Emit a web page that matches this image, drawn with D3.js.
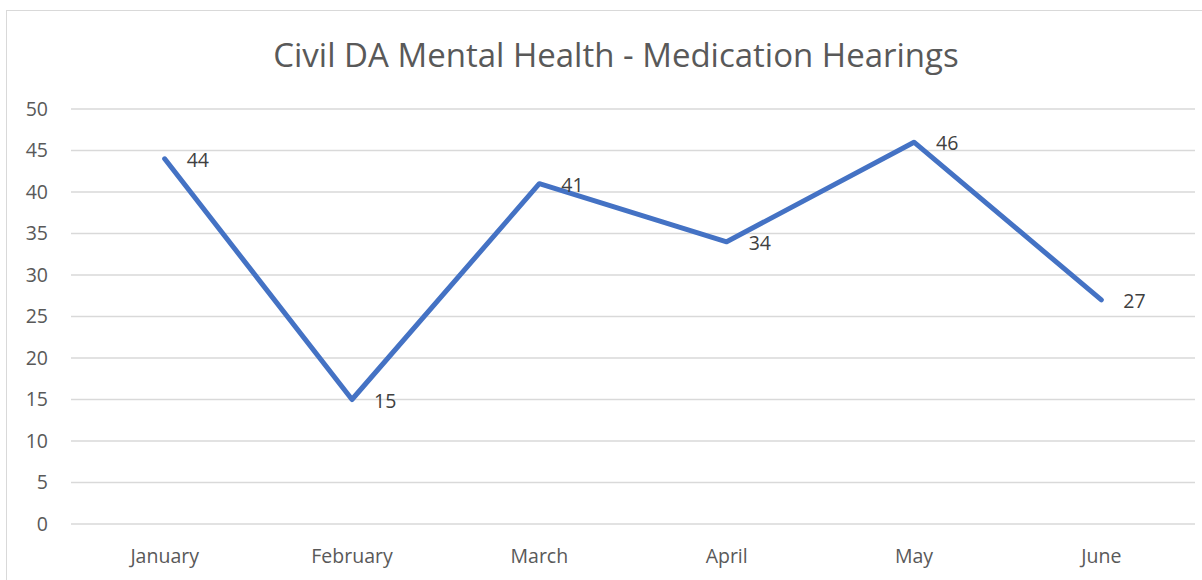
<!DOCTYPE html>
<html>
<head>
<meta charset="utf-8">
<script src="https://cdn.jsdelivr.net/npm/d3@7"></script>
<style>
  body { margin: 0; background: #fff; }
  svg { display: block; font-family: "Open Sans", "Noto Sans", sans-serif; }
</style>
</head>
<body>
<div id="chart"></div>
<script>
// chart data
var months = ["January", "February", "March", "April", "May", "June"];
var hearings = [44, 15, 41, 34, 46, 27];
var yTicks = [0, 5, 10, 15, 20, 25, 30, 35, 40, 45, 50];
var title = "Civil DA Mental Health - Medication Hearings";

var width = 1202, height = 580;
var plotLeft = 71, plotRight = 1195, plotTop = 109, plotBottom = 524;
var fontSize = 19.5;

var svg = d3.select("#chart").append("svg")
    .attr("width", width)
    .attr("height", height);

// outer chart border
svg.append("rect")
    .attr("x", 6.5).attr("y", 10.5)
    .attr("width", 1240).attr("height", 620)
    .attr("fill", "#fff")
    .attr("stroke", "#d9d9d9")
    .attr("stroke-width", 1);

var x = d3.scaleBand().domain(months).range([plotLeft, plotRight]);
var y = d3.scaleLinear().domain([0, 50]).range([plotBottom, plotTop]);

// gridlines
svg.append("g")
  .selectAll("line")
  .data(yTicks)
  .enter()
  .append("line")
    .attr("x1", plotLeft).attr("x2", plotRight)
    .attr("y1", function(d) { return y(d); })
    .attr("y2", function(d) { return y(d); })
    .attr("stroke", "#d9d9d9")
    .attr("stroke-width", 1.5);

// y axis labels
var yAxis = svg.append("g")
    .attr("transform", "translate(" + 48 + ",0)")
    .call(d3.axisLeft(y).tickValues(yTicks).tickSize(0).tickPadding(0));
yAxis.select(".domain").remove();
yAxis.selectAll("text")
    .attr("font-family", "Open Sans, sans-serif")
    .attr("font-size", fontSize)
    .attr("fill", "#595959");

// x axis labels
var xAxis = svg.append("g")
    .attr("transform", "translate(0," + 549 + ")")
    .call(d3.axisBottom(x).tickSize(0).tickPadding(0));
xAxis.select(".domain").remove();
xAxis.selectAll("text")
    .attr("font-family", "Open Sans, sans-serif")
    .attr("font-size", fontSize)
    .attr("fill", "#595959");

// title
svg.append("text")
    .attr("x", 616)
    .attr("y", 67)
    .attr("text-anchor", "middle")
    .attr("font-size", 33)
    .attr("fill", "#595959")
    .text(title);

// the line
var line = d3.line()
    .x(function(d, i) { return x(months[i]) + x.bandwidth() / 2; })
    .y(function(d) { return y(d); });

svg.append("path")
    .datum(hearings)
    .attr("d", line)
    .attr("fill", "none")
    .attr("stroke", "#4472c4")
    .attr("stroke-width", 5)
    .attr("stroke-linejoin", "round")
    .attr("stroke-linecap", "round");

// data labels
svg.append("g")
  .selectAll("text")
  .data(hearings)
  .enter()
  .append("text")
    .attr("x", function(d, i) { return x(months[i]) + x.bandwidth() / 2 + 22; })
    .attr("y", function(d) { return y(d) + 8; })
    .attr("font-size", fontSize)
    .attr("fill", "#404040")
    .text(function(d) { return d; });
</script>
</body>
</html>
